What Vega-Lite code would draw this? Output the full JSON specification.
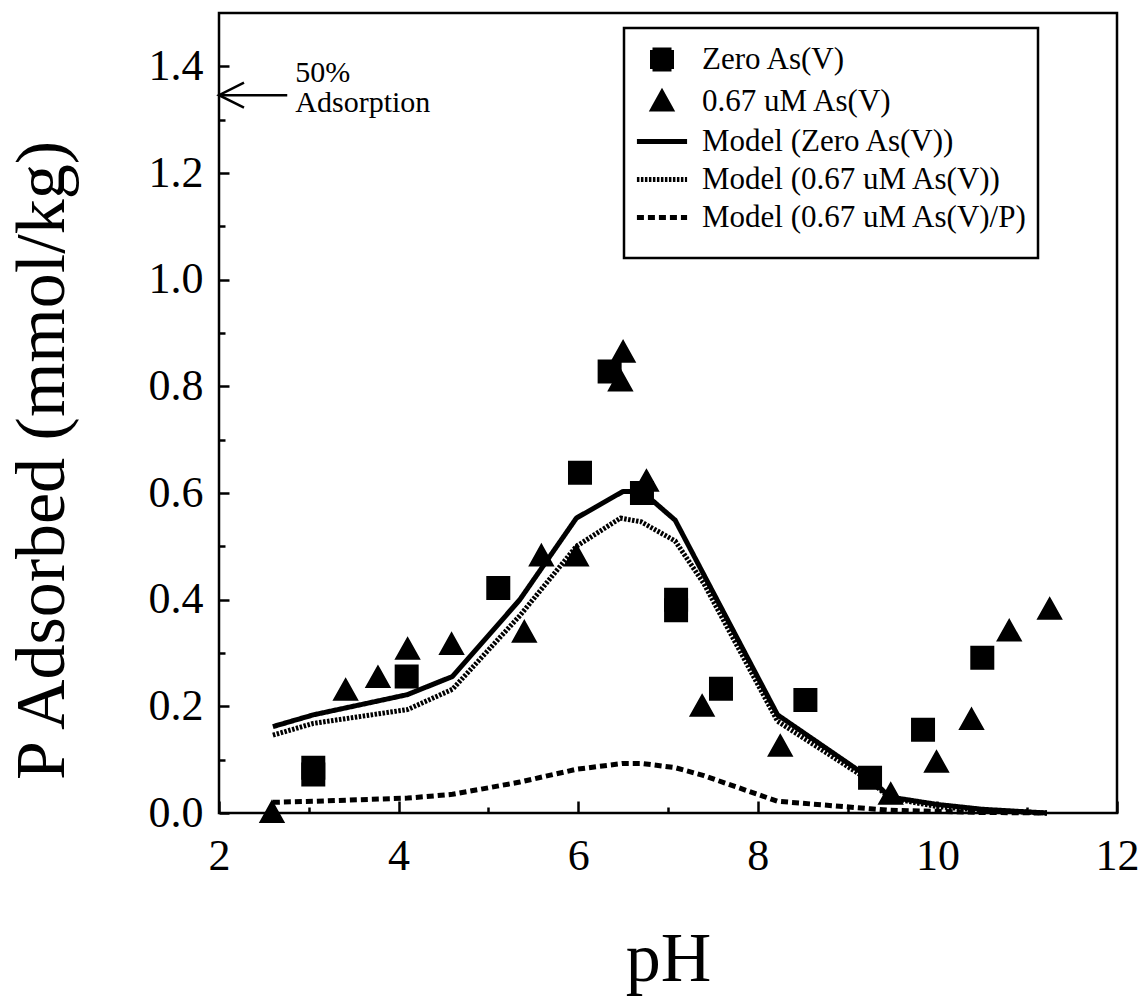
{
  "$schema": "https://vega.github.io/schema/vega-lite/v6.json",
  "width": 898,
  "height": 800,
  "autosize": {"type": "none"},
  "padding": {"left": 219, "top": 13, "right": 24, "bottom": 189},
  "background": "white",
  "config": {
    "view": {"stroke": "black", "strokeWidth": 2.5},
    "font": "Liberation Serif",
    "axis": {
      "domain": false,
      "grid": false,
      "labelFont": "Liberation Serif",
      "labelFontSize": 44,
      "labelColor": "black",
      "tickColor": "black",
      "tickWidth": 2.5,
      "titleFont": "Liberation Serif",
      "titleFontSize": 70,
      "titleFontWeight": "normal",
      "titleColor": "black",
      "labelOverlap": false,
      "labelFlush": false
    },
    "legend": {
      "orient": "none",
      "legendX": 405,
      "legendY": 15,
      "labelFont": "Liberation Serif",
      "labelFontSize": 31,
      "labelColor": "black",
      "labelLimit": 0,
      "symbolSize": 1444,
      "symbolStrokeWidth": 5,
      "symbolStrokeColor": "black",
      "symbolFillColor": "black",
      "symbolOffset": 6.5,
      "strokeColor": "black",
      "strokeWidth": 2.5,
      "fillColor": "white",
      "padding": 10,
      "rowPadding": 1,
      "labelOffset": 18.5,
      "titleOrient": "bottom",
      "titleFontSize": 12,
      "titlePadding": 4
    }
  },
  "resolve": {"axis": {"x": "independent", "y": "independent"}},
  "datasets": {
    "obs": [
      {"series": "Zero As(V)", "pH": 3.05, "P": 0.085},
      {"series": "Zero As(V)", "pH": 3.05, "P": 0.072},
      {"series": "Zero As(V)", "pH": 4.09, "P": 0.256},
      {"series": "Zero As(V)", "pH": 5.11, "P": 0.422},
      {"series": "Zero As(V)", "pH": 6.02, "P": 0.638},
      {"series": "Zero As(V)", "pH": 6.35, "P": 0.828},
      {"series": "Zero As(V)", "pH": 6.71, "P": 0.600},
      {"series": "Zero As(V)", "pH": 7.09, "P": 0.400},
      {"series": "Zero As(V)", "pH": 7.09, "P": 0.380},
      {"series": "Zero As(V)", "pH": 7.59, "P": 0.233},
      {"series": "Zero As(V)", "pH": 8.53, "P": 0.212},
      {"series": "Zero As(V)", "pH": 9.25, "P": 0.066},
      {"series": "Zero As(V)", "pH": 9.84, "P": 0.156},
      {"series": "Zero As(V)", "pH": 10.50, "P": 0.291},
      {"series": "0.67 uM As(V)", "pH": 2.59, "P": 0.0},
      {"series": "0.67 uM As(V)", "pH": 3.41, "P": 0.229},
      {"series": "0.67 uM As(V)", "pH": 3.77, "P": 0.253},
      {"series": "0.67 uM As(V)", "pH": 4.10, "P": 0.306},
      {"series": "0.67 uM As(V)", "pH": 4.59, "P": 0.315},
      {"series": "0.67 uM As(V)", "pH": 5.40, "P": 0.338},
      {"series": "0.67 uM As(V)", "pH": 5.59, "P": 0.481},
      {"series": "0.67 uM As(V)", "pH": 5.98, "P": 0.481},
      {"series": "0.67 uM As(V)", "pH": 6.50, "P": 0.863},
      {"series": "0.67 uM As(V)", "pH": 6.47, "P": 0.809},
      {"series": "0.67 uM As(V)", "pH": 6.76, "P": 0.621},
      {"series": "0.67 uM As(V)", "pH": 7.38, "P": 0.199},
      {"series": "0.67 uM As(V)", "pH": 8.25, "P": 0.124},
      {"series": "0.67 uM As(V)", "pH": 9.48, "P": 0.034},
      {"series": "0.67 uM As(V)", "pH": 9.99, "P": 0.094},
      {"series": "0.67 uM As(V)", "pH": 10.38, "P": 0.174},
      {"series": "0.67 uM As(V)", "pH": 10.80, "P": 0.340},
      {"series": "0.67 uM As(V)", "pH": 11.25, "P": 0.381}
    ],
    "model": [
      {"series": "Model (Zero As(V))", "pH": 2.6, "P": 0.162},
      {"series": "Model (Zero As(V))", "pH": 3.05, "P": 0.184},
      {"series": "Model (Zero As(V))", "pH": 4.1, "P": 0.222},
      {"series": "Model (Zero As(V))", "pH": 4.6, "P": 0.256},
      {"series": "Model (Zero As(V))", "pH": 5.35, "P": 0.400},
      {"series": "Model (Zero As(V))", "pH": 5.98, "P": 0.553},
      {"series": "Model (Zero As(V))", "pH": 6.5, "P": 0.603},
      {"series": "Model (Zero As(V))", "pH": 6.7, "P": 0.603},
      {"series": "Model (Zero As(V))", "pH": 6.84, "P": 0.584},
      {"series": "Model (Zero As(V))", "pH": 7.08, "P": 0.549},
      {"series": "Model (Zero As(V))", "pH": 8.22, "P": 0.184},
      {"series": "Model (Zero As(V))", "pH": 9.25, "P": 0.065},
      {"series": "Model (Zero As(V))", "pH": 9.47, "P": 0.030},
      {"series": "Model (Zero As(V))", "pH": 10.0, "P": 0.016},
      {"series": "Model (Zero As(V))", "pH": 10.5, "P": 0.007},
      {"series": "Model (Zero As(V))", "pH": 11.22, "P": 0.0},
      {"series": "Model (0.67 uM As(V))", "pH": 2.6, "P": 0.146},
      {"series": "Model (0.67 uM As(V))", "pH": 3.05, "P": 0.168},
      {"series": "Model (0.67 uM As(V))", "pH": 4.1, "P": 0.194},
      {"series": "Model (0.67 uM As(V))", "pH": 4.6, "P": 0.232},
      {"series": "Model (0.67 uM As(V))", "pH": 5.35, "P": 0.370},
      {"series": "Model (0.67 uM As(V))", "pH": 5.98, "P": 0.500},
      {"series": "Model (0.67 uM As(V))", "pH": 6.47, "P": 0.553},
      {"series": "Model (0.67 uM As(V))", "pH": 6.7, "P": 0.546},
      {"series": "Model (0.67 uM As(V))", "pH": 7.08, "P": 0.510},
      {"series": "Model (0.67 uM As(V))", "pH": 7.4, "P": 0.430},
      {"series": "Model (0.67 uM As(V))", "pH": 8.22, "P": 0.172},
      {"series": "Model (0.67 uM As(V))", "pH": 9.25, "P": 0.060},
      {"series": "Model (0.67 uM As(V))", "pH": 9.47, "P": 0.028},
      {"series": "Model (0.67 uM As(V))", "pH": 10.0, "P": 0.012},
      {"series": "Model (0.67 uM As(V))", "pH": 10.5, "P": 0.005},
      {"series": "Model (0.67 uM As(V))", "pH": 11.22, "P": 0.0},
      {"series": "Model (0.67 uM As(V)/P)", "pH": 2.6, "P": 0.020},
      {"series": "Model (0.67 uM As(V)/P)", "pH": 3.05, "P": 0.022},
      {"series": "Model (0.67 uM As(V)/P)", "pH": 4.1, "P": 0.028},
      {"series": "Model (0.67 uM As(V)/P)", "pH": 4.6, "P": 0.035},
      {"series": "Model (0.67 uM As(V)/P)", "pH": 5.35, "P": 0.058},
      {"series": "Model (0.67 uM As(V)/P)", "pH": 5.98, "P": 0.082},
      {"series": "Model (0.67 uM As(V)/P)", "pH": 6.5, "P": 0.093},
      {"series": "Model (0.67 uM As(V)/P)", "pH": 6.7, "P": 0.093},
      {"series": "Model (0.67 uM As(V)/P)", "pH": 7.08, "P": 0.085},
      {"series": "Model (0.67 uM As(V)/P)", "pH": 7.4, "P": 0.070},
      {"series": "Model (0.67 uM As(V)/P)", "pH": 8.22, "P": 0.022},
      {"series": "Model (0.67 uM As(V)/P)", "pH": 9.25, "P": 0.008},
      {"series": "Model (0.67 uM As(V)/P)", "pH": 9.47, "P": 0.005},
      {"series": "Model (0.67 uM As(V)/P)", "pH": 10.0, "P": 0.003},
      {"series": "Model (0.67 uM As(V)/P)", "pH": 10.5, "P": 0.001},
      {"series": "Model (0.67 uM As(V)/P)", "pH": 11.22, "P": 0.0}
    ],
    "note": [
      {"pH": 2.85, "P": 1.388, "text": "50%"},
      {"pH": 2.85, "P": 1.331, "text": "Adsorption"}
    ],
    "arrow": [
      {"pH": 2.03, "pH2": 2.76, "P": 1.346}
    ]
  },
  "layer": [
    {
      "data": {"name": "model"},
      "mark": {"type": "line", "color": "black", "strokeWidth": 5, "strokeCap": "butt", "strokeJoin": "round"},
      "encoding": {
        "x": {
          "field": "pH", "type": "quantitative",
          "scale": {"domain": [2, 12], "nice": false, "zero": false},
          "axis": {
            "orient": "bottom",
            "values": [2, 4, 6, 8, 10, 12],
            "format": "d",
            "tickSize": -12,
            "labelPadding": 33,
            "title": "pH",
            "titleY": 167,
            "titleBaseline": "alphabetic"
          }
        },
        "y": {
          "field": "P", "type": "quantitative",
          "scale": {"domain": [0, 1.5], "nice": false},
          "axis": {
            "orient": "left",
            "values": [0, 0.2, 0.4, 0.6, 0.8, 1.0, 1.2, 1.4],
            "format": ".1f",
            "tickSize": -10,
            "labelPadding": 26,
            "title": "P Adsorbed (mmol/kg)",
            "titleAngle": -90,
            "titleX": -177,
            "titleY": 447,
            "titleAlign": "center",
            "titleBaseline": "middle"
          }
        },
        "detail": {"field": "series"},
        "strokeDash": {
          "field": "series", "type": "nominal",
          "scale": {
            "domain": ["Zero As(V)", "0.67 uM As(V)", "Model (Zero As(V))", "Model (0.67 uM As(V))", "Model (0.67 uM As(V)/P)"],
            "range": [[1, 0], [1, 0], [1, 0], [2.5, 1.5], [7, 4]]
          },
          "legend": {
            "title": " ",
            "encode": {"symbols": {"update": {"stroke": {"value": "black"}, "strokeWidth": {"value": 5}, "fill": {"value": "black"}}}}
          }
        }
      }
    },
    {
      "data": {"name": "obs"},
      "mark": {"type": "point", "filled": true, "color": "black", "stroke": "black", "strokeWidth": 5, "opacity": 1, "size": 1444, "clip": false},
      "encoding": {
        "x": {"field": "pH", "type": "quantitative", "axis": null},
        "y": {"field": "P", "type": "quantitative", "axis": null},
        "shape": {
          "field": "series", "type": "nominal",
          "scale": {
            "domain": ["Zero As(V)", "0.67 uM As(V)", "Model (Zero As(V))", "Model (0.67 uM As(V))", "Model (0.67 uM As(V)/P)"],
            "range": ["M-0.5,-0.5H0.5V0.5H-0.5Z", "M0,-0.45L0.47,0.39L-0.47,0.39Z", "M-1.32,0H1.32", "M-1.32,0H1.32", "M-1.32,0H1.32"]
          },
          "legend": {
            "title": " ",
            "encode": {"symbols": {"update": {"stroke": {"value": "black"}, "strokeWidth": {"value": 5}, "fill": {"value": "black"}}}}
          }
        }
      }
    },
    {
      "data": {"name": "arrow"},
      "mark": {"type": "rule", "color": "black", "strokeWidth": 2.5},
      "encoding": {
        "x": {"field": "pH", "type": "quantitative",
          "axis": {"orient": "bottom", "values": [3, 5, 7, 9, 11], "tickSize": -6, "labels": false, "title": null}},
        "x2": {"field": "pH2"},
        "y": {"field": "P", "type": "quantitative",
          "axis": {"orient": "left", "values": [0.1, 0.3, 0.5, 0.7, 0.9, 1.1, 1.3], "tickSize": -6, "labels": false, "title": null}}
      }
    },
    {
      "data": {"name": "arrow"},
      "mark": {"type": "point", "shape": "M1,-0.5L0,0L1,0.5", "filled": false, "color": "black", "strokeWidth": 2.5, "size": 2500, "opacity": 1},
      "encoding": {
        "x": {"datum": 2.0, "type": "quantitative", "axis": null},
        "y": {"field": "P", "type": "quantitative", "axis": null}
      }
    },
    {
      "data": {"name": "note"},
      "mark": {"type": "text", "align": "left", "baseline": "middle", "font": "Liberation Serif", "fontSize": 30, "color": "black"},
      "encoding": {
        "x": {"field": "pH", "type": "quantitative", "axis": null},
        "y": {"field": "P", "type": "quantitative", "axis": null},
        "text": {"field": "text"}
      }
    }
  ]
}
